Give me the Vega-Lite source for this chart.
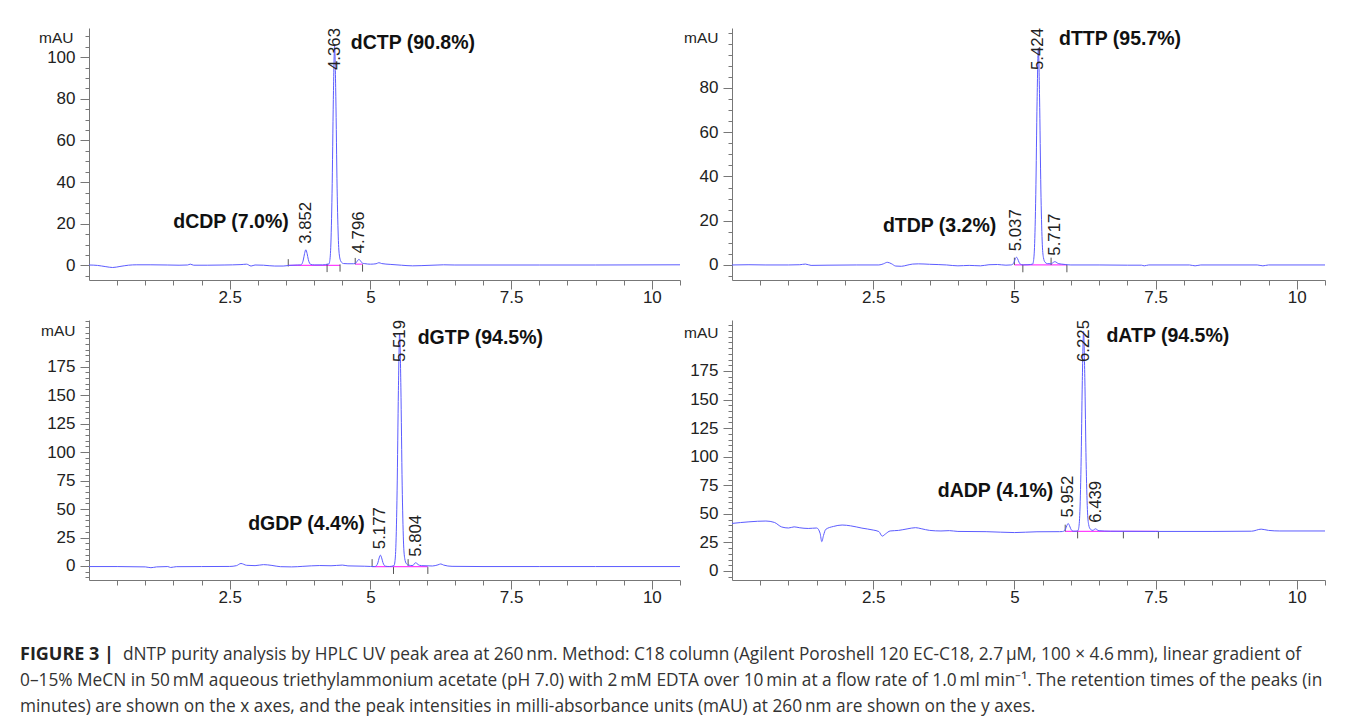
{
"$schema": "https://vega.github.io/schema/vega-lite/v6.json",
"autosize": {"type": "pad"},
"padding": {"left": 20, "top": 23, "right": 5, "bottom": 0},
"background": "white",
"config": {"view": {"stroke": null}, "font": "Liberation Sans",
  "axis": {"grid": false, "domainColor": "#777", "tickColor": "#777", "domainWidth": 1, "tickWidth": 1, "labelColor": "#222", "labelFont": "Liberation Sans", "labelFontSize": 17, "labelOverlap": false, "labelFlush": false, "labelBound": false}},
"datasets": {
"p1_trace": [{"x":0,"y":0.2},{"x":0.15,"y":0.0},{"x":0.3,"y":-0.6},{"x":0.42,"y":-1.0},{"x":0.55,"y":-0.5},{"x":0.7,"y":0.1},{"x":0.85,"y":0.3},{"x":1.1,"y":0.3},{"x":1.4,"y":0.2},{"x":1.6,"y":0.1},{"x":1.75,"y":0.2},{"x":1.8,"y":0.6},{"x":1.86,"y":0.1},{"x":2.1,"y":0.1},{"x":2.4,"y":0.2},{"x":2.7,"y":0.4},{"x":2.8,"y":0.6},{"x":2.88,"y":-0.3},{"x":2.95,"y":0.2},{"x":3.1,"y":0.1},{"x":3.3,"y":-0.3},{"x":3.45,"y":-0.3},{"x":3.55,"y":0.0},{"x":3.7,"y":0.2},{"x":3.752,"y":0.23},{"x":3.762,"y":0.28},{"x":3.784,"y":0.78},{"x":3.807,"y":2.57},{"x":3.83,"y":5.71},{"x":3.852,"y":7.5},{"x":3.874,"y":5.82},{"x":3.897,"y":2.76},{"x":3.92,"y":1.0},{"x":3.942,"y":0.46},{"x":3.972,"y":0.29},{"x":4.012,"y":0.24},{"x":4.15,"y":0.25},{"x":4.263,"y":0.72},{"x":4.273,"y":1.46},{"x":4.295,"y":8.7},{"x":4.318,"y":34.4},{"x":4.341,"y":79.6},{"x":4.363,"y":105.3},{"x":4.385,"y":81.2},{"x":4.408,"y":37.1},{"x":4.431,"y":11.9},{"x":4.453,"y":4.0},{"x":4.483,"y":1.6},{"x":4.523,"y":0.9},{"x":4.6,"y":0.8},{"x":4.7,"y":0.8},{"x":4.728,"y":0.97},{"x":4.751,"y":1.48},{"x":4.774,"y":2.4},{"x":4.796,"y":2.9},{"x":4.818,"y":2.4},{"x":4.841,"y":1.5},{"x":4.864,"y":1.03},{"x":4.9,"y":0.85},{"x":5.0,"y":0.6},{"x":5.1,"y":0.8},{"x":5.15,"y":1.3},{"x":5.2,"y":0.9},{"x":5.35,"y":0.5},{"x":5.55,"y":0.1},{"x":5.75,"y":-0.2},{"x":5.9,"y":-0.1},{"x":6.2,"y":0.2},{"x":6.3,"y":0.3},{"x":6.5,"y":0.2},{"x":7.0,"y":0.2},{"x":8.0,"y":0.2},{"x":9.0,"y":0.2},{"x":10.5,"y":0.3}],
"p1_base": [{"x":3.54,"x2":4.46,"y":0},{"x":4.73,"x2":4.86,"y":0.6}],
"p1_ticks": [{"x":3.54,"y":-0.5,"y2":3.0},{"x":4.23,"y":0.8,"y2":-3.2},{"x":4.46,"y":0.5,"y2":-3.0},{"x":4.73,"y":0.5,"y2":3.6},{"x":4.86,"y":0.5,"y2":-3.0}],
"p1_rt": [{"x":3.852,"y":7.5,"label":"3.852"},{"x":4.796,"y":2.9,"label":"4.796"}],
"p1_rttop": [{"x":4.363,"y":114,"label":"4.363"}],
"p1_nameL": [{"x":4.65,"y":107,"label":"dCTP (90.8%)"}],
"p1_nameR": [{"x":3.55,"y":20.7,"label":"dCDP (7.0%)"}],
"p2_trace": [{"x":0,"y":0.0},{"x":0.3,"y":0.1},{"x":0.6,"y":0.0},{"x":1.0,"y":0.0},{"x":1.2,"y":0.1},{"x":1.3,"y":0.4},{"x":1.4,"y":-0.2},{"x":1.7,"y":-0.1},{"x":2.2,"y":0.0},{"x":2.6,"y":0.0},{"x":2.68,"y":0.5},{"x":2.75,"y":1.2},{"x":2.82,"y":0.6},{"x":2.9,"y":-0.5},{"x":3.0,"y":-0.6},{"x":3.1,"y":-0.1},{"x":3.2,"y":0.4},{"x":3.3,"y":0.5},{"x":3.5,"y":0.3},{"x":3.8,"y":0.0},{"x":4.0,"y":-0.4},{"x":4.2,"y":-0.2},{"x":4.4,"y":-0.4},{"x":4.55,"y":0.1},{"x":4.7,"y":0.2},{"x":4.85,"y":-0.1},{"x":4.937,"y":0.01},{"x":4.947,"y":0.04},{"x":4.969,"y":0.28},{"x":4.992,"y":1.14},{"x":5.015,"y":2.64},{"x":5.037,"y":3.5},{"x":5.059,"y":2.7},{"x":5.082,"y":1.23},{"x":5.105,"y":0.39},{"x":5.127,"y":0.12},{"x":5.157,"y":0.04},{"x":5.24,"y":0.1},{"x":5.324,"y":0.4},{"x":5.334,"y":1.1},{"x":5.356,"y":7.8},{"x":5.379,"y":31.9},{"x":5.402,"y":74},{"x":5.424,"y":98},{"x":5.446,"y":75.5},{"x":5.469,"y":34.3},{"x":5.492,"y":10.8},{"x":5.514,"y":3.4},{"x":5.544,"y":1.2},{"x":5.584,"y":0.6},{"x":5.65,"y":0.55},{"x":5.672,"y":0.83},{"x":5.695,"y":1.25},{"x":5.717,"y":1.5},{"x":5.739,"y":1.27},{"x":5.762,"y":0.85},{"x":5.785,"y":0.61},{"x":5.83,"y":0.4},{"x":5.9,"y":0.2},{"x":6.0,"y":0.0},{"x":6.5,"y":0.0},{"x":7.0,"y":-0.1},{"x":7.25,"y":-0.1},{"x":7.3,"y":-0.4},{"x":7.38,"y":0.0},{"x":8.1,"y":0.0},{"x":8.2,"y":-0.4},{"x":8.3,"y":0.0},{"x":9.3,"y":0.0},{"x":9.4,"y":-0.4},{"x":9.5,"y":0.0},{"x":10.5,"y":0.0}],
"p2_base": [{"x":5.0,"x2":5.93,"y":0}],
"p2_ticks": [{"x":5.0,"y":0,"y2":3.3},{"x":5.15,"y":0,"y2":-3.3},{"x":5.65,"y":0,"y2":3.3},{"x":5.93,"y":0,"y2":-3.3}],
"p2_rt": [{"x":5.037,"y":3.5,"label":"5.037"},{"x":5.717,"y":1.5,"label":"5.717"}],
"p2_rttop": [{"x":5.424,"y":107.1,"label":"5.424"}],
"p2_nameL": [{"x":5.79,"y":102,"label":"dTTP (95.7%)"}],
"p2_nameR": [{"x":4.68,"y":17.8,"label":"dTDP (3.2%)"}],
"p3_trace": [{"x":0,"y":-0.5},{"x":0.5,"y":-0.5},{"x":1.0,"y":-0.8},{"x":1.1,"y":-1.5},{"x":1.2,"y":-0.8},{"x":1.4,"y":-0.5},{"x":1.45,"y":-1.3},{"x":1.55,"y":-0.6},{"x":2.0,"y":-0.5},{"x":2.5,"y":-0.4},{"x":2.62,"y":0.3},{"x":2.7,"y":2.2},{"x":2.8,"y":0.6},{"x":2.95,"y":0.3},{"x":3.1,"y":1.2},{"x":3.25,"y":0.5},{"x":3.4,"y":-0.6},{"x":3.6,"y":-0.8},{"x":3.8,"y":-0.3},{"x":4.1,"y":0.4},{"x":4.3,"y":0.2},{"x":4.5,"y":0.8},{"x":4.6,"y":0.1},{"x":4.9,"y":-0.2},{"x":5.0,"y":-0.4},{"x":5.077,"y":-0.46},{"x":5.087,"y":-0.39},{"x":5.109,"y":0.3},{"x":5.132,"y":2.75},{"x":5.155,"y":7.05},{"x":5.177,"y":9.5},{"x":5.199,"y":7.2},{"x":5.222,"y":3.0},{"x":5.245,"y":0.6},{"x":5.267,"y":-0.15},{"x":5.297,"y":-0.38},{"x":5.337,"y":-0.45},{"x":5.419,"y":0.3},{"x":5.429,"y":1.8},{"x":5.451,"y":16},{"x":5.474,"y":66},{"x":5.497,"y":154},{"x":5.519,"y":204.5},{"x":5.541,"y":157},{"x":5.564,"y":71},{"x":5.587,"y":22},{"x":5.609,"y":6.7},{"x":5.639,"y":2.0},{"x":5.679,"y":0.8},{"x":5.74,"y":0.4},{"x":5.76,"y":0.6},{"x":5.782,"y":2.2},{"x":5.804,"y":2.8},{"x":5.826,"y":2.2},{"x":5.849,"y":1.2},{"x":5.872,"y":0.6},{"x":5.91,"y":0.3},{"x":6.1,"y":0.0},{"x":6.2,"y":1.0},{"x":6.25,"y":1.8},{"x":6.3,"y":0.8},{"x":6.45,"y":-0.3},{"x":7.0,"y":-0.5},{"x":8.0,"y":-0.5},{"x":9.0,"y":-0.5},{"x":10.5,"y":-0.5}],
"p3_base": [{"x":5.03,"x2":6.02,"y":-0.5}],
"p3_ticks": [{"x":5.03,"y":0,"y2":6},{"x":5.41,"y":-1,"y2":-7},{"x":5.67,"y":0,"y2":6},{"x":6.02,"y":-1,"y2":-7}],
"p3_rt": [{"x":5.177,"y":9.5,"label":"5.177"},{"x":5.804,"y":2.8,"label":"5.804"}],
"p3_rttop": [{"x":5.519,"y":216,"label":"5.519"}],
"p3_nameL": [{"x":5.84,"y":200.5,"label":"dGTP (94.5%)"}],
"p3_nameR": [{"x":4.9,"y":36.6,"label":"dGDP (4.4%)"}],
"p4_trace": [{"x":0,"y":41.6},{"x":0.3,"y":43.0},{"x":0.6,"y":43.7},{"x":0.75,"y":42.5},{"x":0.88,"y":38.5},{"x":1.0,"y":37.6},{"x":1.1,"y":38.6},{"x":1.2,"y":37.8},{"x":1.35,"y":37.2},{"x":1.5,"y":37.6},{"x":1.56,"y":33},{"x":1.59,"y":25.7},{"x":1.62,"y":31},{"x":1.66,"y":36.4},{"x":1.8,"y":39.0},{"x":1.95,"y":40.2},{"x":2.1,"y":39.5},{"x":2.3,"y":37.5},{"x":2.5,"y":35.8},{"x":2.6,"y":34.5},{"x":2.66,"y":30.5},{"x":2.72,"y":32.5},{"x":2.8,"y":35.0},{"x":2.95,"y":35.5},{"x":3.1,"y":36.8},{"x":3.25,"y":37.9},{"x":3.35,"y":37.0},{"x":3.5,"y":35.5},{"x":3.7,"y":35.0},{"x":3.85,"y":35.3},{"x":4.0,"y":34.6},{"x":4.5,"y":34.4},{"x":5.0,"y":33.6},{"x":5.4,"y":34.3},{"x":5.8,"y":34.4},{"x":5.852,"y":34.5},{"x":5.862,"y":34.6},{"x":5.884,"y":35.1},{"x":5.907,"y":36.8},{"x":5.93,"y":39.8},{"x":5.952,"y":41.5},{"x":5.974,"y":39.9},{"x":5.997,"y":37.0},{"x":6.02,"y":35.3},{"x":6.042,"y":34.8},{"x":6.09,"y":34.8},{"x":6.125,"y":35.2},{"x":6.135,"y":36.4},{"x":6.157,"y":48.5},{"x":6.18,"y":91.4},{"x":6.203,"y":166.6},{"x":6.225,"y":209.5},{"x":6.247,"y":169.2},{"x":6.27,"y":95.8},{"x":6.293,"y":53.8},{"x":6.315,"y":40.6},{"x":6.345,"y":36.6},{"x":6.39,"y":35.5},{"x":6.415,"y":36.3},{"x":6.439,"y":36.9},{"x":6.465,"y":36.0},{"x":6.5,"y":35.2},{"x":6.7,"y":34.8},{"x":7.5,"y":34.6},{"x":8.5,"y":34.6},{"x":9.2,"y":34.8},{"x":9.37,"y":36.6},{"x":9.5,"y":35.5},{"x":9.7,"y":35.0},{"x":10.5,"y":35.0}],
"p4_base": [{"x":5.9,"x2":7.55,"y":34.6}],
"p4_ticks": [{"x":5.9,"y":34.5,"y2":40.5},{"x":6.12,"y":34.5,"y2":28.5},{"x":6.93,"y":34.5,"y2":28.5},{"x":7.55,"y":34.5,"y2":28.5}],
"p4_rt": [{"x":5.952,"y":41.5,"label":"5.952"},{"x":6.439,"y":36.9,"label":"6.439"}],
"p4_rttop": [{"x":6.225,"y":219.6,"label":"6.225"}],
"p4_nameL": [{"x":6.63,"y":205.6,"label":"dATP (94.5%)"}],
"p4_nameR": [{"x":5.69,"y":70,"label":"dADP (4.1%)"}],
"caption": [
 {"line":1,"part":"bold","text":"FIGURE 3 |"},
 {"line":1,"part":"first","text":"dNTP purity analysis by HPLC UV peak area at 260\u2009nm. Method: C18 column (Agilent Poroshell 120 EC-C18, 2.7\u2009µM, 100 × 4.6\u2009mm), linear gradient of"},
 {"line":2,"part":"rest","text":"0–15% MeCN in 50\u2009mM aqueous triethylammonium acetate (pH 7.0) with 2\u2009mM EDTA over 10\u2009min at a flow rate of 1.0\u2009ml min⁻¹. The retention times of the peaks (in"},
 {"line":3,"part":"rest","text":"minutes) are shown on the x axes, and the peak intensities in milli-absorbance units (mAU) at 260\u2009nm are shown on the y axes."}
]
},
"vconcat": [
 {"vconcat": [
  {"hconcat": [
   {"width": 591, "height": 252,
    "encoding": {
     "x": {"field": "x", "type": "quantitative", "scale": {"domain": [0, 10.5], "nice": false, "zero": false},
       "axis": {"title": null, "values": [0.5,1,1.5,2,2.5,3,3.5,4,4.5,5,5.5,6,6.5,7,7.5,8,8.5,9,9.5,10,10.5], "format": "~g", "labelExpr": "datum.value % 2.5 === 0 ? datum.label : ''", "tickSize": {"condition": {"test": "datum.value % 2.5 === 0", "value": 9}, "value": 5}, "labelPadding": 0}},
     "y": {"field": "y", "type": "quantitative", "scale": {"domain": [-7, 114], "nice": false, "zero": false},
       "axis": {"title": "mAU", "titleAngle": 0, "titleAlign": "right", "titleBaseline": "middle", "titleX": -16, "titleY": 9, "titleFontSize": 15.5, "titleFontWeight": "normal", "titleColor": "#222", "titleFont": "Liberation Sans",
        "values": [-5,0,5,10,15,20,25,30,35,40,45,50,55,60,65,70,75,80,85,90,95,100,105,110], "format": "~g", "labelExpr": "datum.value % 20 === 0 && datum.value >= 0 ? datum.label : ''", "tickSize": {"condition": {"test": "datum.value % 20 === 0 && datum.value >= 0", "value": 9}, "value": 4}, "labelPadding": 5}}
    },
    "layer": [
     {"data": {"name": "p1_base"}, "mark": {"type": "rule", "color": "#ff40ff", "strokeWidth": 1.2}, "encoding": {"x2": {"field": "x2"}}},
     {"data": {"name": "p1_ticks"}, "mark": {"type": "rule", "color": "#555"}, "encoding": {"y2": {"field": "y2"}}},
     {"data": {"name": "p1_trace"}, "mark": {"type": "line", "color": "#5c5cff", "strokeWidth": 1, "interpolate": "monotone"}, "encoding": {}},
     {"data": {"name": "p1_rt"}, "mark": {"type": "text", "angle": 270, "align": "left", "baseline": "middle", "dx": 6, "fontSize": 16.8, "color": "#222"}, "encoding": {"text": {"field": "label"}}},
     {"data": {"name": "p1_rttop"}, "mark": {"type": "text", "angle": 270, "align": "right", "baseline": "middle", "fontSize": 16.8, "color": "#222"}, "encoding": {"text": {"field": "label"}}},
     {"data": {"name": "p1_nameL"}, "mark": {"type": "text", "align": "left", "baseline": "middle", "fontSize": 19.5, "fontWeight": "bold", "color": "#111"}, "encoding": {"text": {"field": "label"}}},
     {"data": {"name": "p1_nameR"}, "mark": {"type": "text", "align": "right", "baseline": "middle", "fontSize": 19.5, "fontWeight": "bold", "color": "#111"}, "encoding": {"text": {"field": "label"}}}
    ]
   },
   {"width": 593, "height": 252,
    "encoding": {
     "x": {"field": "x", "type": "quantitative", "scale": {"domain": [0, 10.5], "nice": false, "zero": false},
       "axis": {"title": null, "values": [0.5,1,1.5,2,2.5,3,3.5,4,4.5,5,5.5,6,6.5,7,7.5,8,8.5,9,9.5,10,10.5], "format": "~g", "labelExpr": "datum.value % 2.5 === 0 ? datum.label : ''", "tickSize": {"condition": {"test": "datum.value % 2.5 === 0", "value": 9}, "value": 5}, "labelPadding": 0}},
     "y": {"field": "y", "type": "quantitative", "scale": {"domain": [-6.8, 107.1], "nice": false, "zero": false},
       "axis": {"title": "mAU", "titleAngle": 0, "titleAlign": "right", "titleBaseline": "middle", "titleX": -14, "titleY": 9, "titleFontSize": 15.5, "titleFontWeight": "normal", "titleColor": "#222", "titleFont": "Liberation Sans",
        "values": [-5,0,5,10,15,20,25,30,35,40,45,50,55,60,65,70,75,80,85,90,95,100,105], "format": "~g", "labelExpr": "datum.value % 20 === 0 && datum.value >= 0 && datum.value <= 80 ? datum.label : ''", "tickSize": {"condition": {"test": "datum.value % 20 === 0 && datum.value >= 0 && datum.value <= 80", "value": 9}, "value": 4}, "labelPadding": 5}}
    },
    "layer": [
     {"data": {"name": "p2_base"}, "mark": {"type": "rule", "color": "#ff40ff", "strokeWidth": 1.2}, "encoding": {"x2": {"field": "x2"}}},
     {"data": {"name": "p2_ticks"}, "mark": {"type": "rule", "color": "#555"}, "encoding": {"y2": {"field": "y2"}}},
     {"data": {"name": "p2_trace"}, "mark": {"type": "line", "color": "#5c5cff", "strokeWidth": 1, "interpolate": "monotone"}, "encoding": {}},
     {"data": {"name": "p2_rt"}, "mark": {"type": "text", "angle": 270, "align": "left", "baseline": "middle", "dx": 6, "fontSize": 16.8, "color": "#222"}, "encoding": {"text": {"field": "label"}}},
     {"data": {"name": "p2_rttop"}, "mark": {"type": "text", "angle": 270, "align": "right", "baseline": "middle", "fontSize": 16.8, "color": "#222"}, "encoding": {"text": {"field": "label"}}},
     {"data": {"name": "p2_nameL"}, "mark": {"type": "text", "align": "left", "baseline": "middle", "fontSize": 19.5, "fontWeight": "bold", "color": "#111"}, "encoding": {"text": {"field": "label"}}},
     {"data": {"name": "p2_nameR"}, "mark": {"type": "text", "align": "right", "baseline": "middle", "fontSize": 19.5, "fontWeight": "bold", "color": "#111"}, "encoding": {"text": {"field": "label"}}}
    ]
   }
  ], "spacing": 52, "bounds": "flush"},
  {"hconcat": [
   {"width": 591, "height": 260,
    "encoding": {
     "x": {"field": "x", "type": "quantitative", "scale": {"domain": [0, 10.5], "nice": false, "zero": false},
       "axis": {"title": null, "values": [0.5,1,1.5,2,2.5,3,3.5,4,4.5,5,5.5,6,6.5,7,7.5,8,8.5,9,9.5,10,10.5], "format": "~g", "labelExpr": "datum.value % 2.5 === 0 ? datum.label : ''", "tickSize": {"condition": {"test": "datum.value % 2.5 === 0", "value": 9}, "value": 5}, "labelPadding": 0}},
     "y": {"field": "y", "type": "quantitative", "scale": {"domain": [-12.3, 216], "nice": false, "zero": false},
       "axis": {"title": "mAU", "titleAngle": 0, "titleAlign": "right", "titleBaseline": "middle", "titleX": -14, "titleY": 10, "titleFontSize": 15.5, "titleFontWeight": "normal", "titleColor": "#222", "titleFont": "Liberation Sans",
        "values": [-10,-5,0,5,10,15,20,25,30,35,40,45,50,55,60,65,70,75,80,85,90,95,100,105,110,115,120,125,130,135,140,145,150,155,160,165,170,175,180,185,190,195,200,205,210,215], "format": "~g", "labelExpr": "datum.value % 25 === 0 && datum.value >= 0 && datum.value <= 175 ? datum.label : ''", "tickSize": {"condition": {"test": "datum.value % 25 === 0 && datum.value >= 0 && datum.value <= 175", "value": 9}, "value": 4}, "labelPadding": 5}}
    },
    "layer": [
     {"data": {"name": "p3_base"}, "mark": {"type": "rule", "color": "#ff40ff", "strokeWidth": 1.2}, "encoding": {"x2": {"field": "x2"}}},
     {"data": {"name": "p3_ticks"}, "mark": {"type": "rule", "color": "#555"}, "encoding": {"y2": {"field": "y2"}}},
     {"data": {"name": "p3_trace"}, "mark": {"type": "line", "color": "#5c5cff", "strokeWidth": 1, "interpolate": "monotone"}, "encoding": {}},
     {"data": {"name": "p3_rt"}, "mark": {"type": "text", "angle": 270, "align": "left", "baseline": "middle", "dx": 6, "fontSize": 16.8, "color": "#222"}, "encoding": {"text": {"field": "label"}}},
     {"data": {"name": "p3_rttop"}, "mark": {"type": "text", "angle": 270, "align": "right", "baseline": "middle", "fontSize": 16.8, "color": "#222"}, "encoding": {"text": {"field": "label"}}},
     {"data": {"name": "p3_nameL"}, "mark": {"type": "text", "align": "left", "baseline": "middle", "fontSize": 19.5, "fontWeight": "bold", "color": "#111"}, "encoding": {"text": {"field": "label"}}},
     {"data": {"name": "p3_nameR"}, "mark": {"type": "text", "align": "right", "baseline": "middle", "fontSize": 19.5, "fontWeight": "bold", "color": "#111"}, "encoding": {"text": {"field": "label"}}}
    ]
   },
   {"width": 593, "height": 260,
    "encoding": {
     "x": {"field": "x", "type": "quantitative", "scale": {"domain": [0, 10.5], "nice": false, "zero": false},
       "axis": {"title": null, "values": [0.5,1,1.5,2,2.5,3,3.5,4,4.5,5,5.5,6,6.5,7,7.5,8,8.5,9,9.5,10,10.5], "format": "~g", "labelExpr": "datum.value % 2.5 === 0 ? datum.label : ''", "tickSize": {"condition": {"test": "datum.value % 2.5 === 0", "value": 9}, "value": 5}, "labelPadding": 0}},
     "y": {"field": "y", "type": "quantitative", "scale": {"domain": [-7.9, 219.6], "nice": false, "zero": false},
       "axis": {"title": "mAU", "titleAngle": 0, "titleAlign": "right", "titleBaseline": "middle", "titleX": -14, "titleY": 12, "titleFontSize": 15.5, "titleFontWeight": "normal", "titleColor": "#222", "titleFont": "Liberation Sans",
        "values": [-5,0,5,10,15,20,25,30,35,40,45,50,55,60,65,70,75,80,85,90,95,100,105,110,115,120,125,130,135,140,145,150,155,160,165,170,175,180,185,190,195,200,205,210,215], "format": "~g", "labelExpr": "datum.value % 25 === 0 && datum.value >= 0 && datum.value <= 175 ? datum.label : ''", "tickSize": {"condition": {"test": "datum.value % 25 === 0 && datum.value >= 0 && datum.value <= 175", "value": 9}, "value": 4}, "labelPadding": 5}}
    },
    "layer": [
     {"data": {"name": "p4_base"}, "mark": {"type": "rule", "color": "#ff40ff", "strokeWidth": 1.2}, "encoding": {"x2": {"field": "x2"}}},
     {"data": {"name": "p4_ticks"}, "mark": {"type": "rule", "color": "#555"}, "encoding": {"y2": {"field": "y2"}}},
     {"data": {"name": "p4_trace"}, "mark": {"type": "line", "color": "#5c5cff", "strokeWidth": 1, "interpolate": "monotone"}, "encoding": {}},
     {"data": {"name": "p4_rt"}, "mark": {"type": "text", "angle": 270, "align": "left", "baseline": "middle", "dx": 6, "fontSize": 16.8, "color": "#222"}, "encoding": {"text": {"field": "label"}}},
     {"data": {"name": "p4_rttop"}, "mark": {"type": "text", "angle": 270, "align": "right", "baseline": "middle", "fontSize": 16.8, "color": "#222"}, "encoding": {"text": {"field": "label"}}},
     {"data": {"name": "p4_nameL"}, "mark": {"type": "text", "align": "left", "baseline": "middle", "fontSize": 19.5, "fontWeight": "bold", "color": "#111"}, "encoding": {"text": {"field": "label"}}},
     {"data": {"name": "p4_nameR"}, "mark": {"type": "text", "align": "right", "baseline": "middle", "fontSize": 19.5, "fontWeight": "bold", "color": "#111"}, "encoding": {"text": {"field": "label"}}}
    ]
   }
  ], "spacing": 52, "bounds": "flush"}
 ], "spacing": 7},
 {"width": 1236, "height": 78,
  "data": {"name": "caption"},
  "encoding": {"y": {"field": "line", "type": "ordinal", "axis": null, "scale": {"type": "point", "padding": 0.5}}, "text": {"field": "text"}},
  "layer": [
   {"transform": [{"filter": "datum.part === 'bold'"}], "mark": {"type": "text", "x": -69, "align": "left", "baseline": "middle", "font": "Open Sans", "fontSize": 18, "fontWeight": "bold", "color": "#222"}},
   {"transform": [{"filter": "datum.part === 'first'"}], "mark": {"type": "text", "x": 34, "align": "left", "baseline": "middle", "font": "Open Sans", "fontSize": 17.3, "color": "#333"}},
   {"transform": [{"filter": "datum.part === 'rest'"}], "mark": {"type": "text", "x": -69, "align": "left", "baseline": "middle", "font": "Open Sans", "fontSize": 17.3, "color": "#333"}}
  ]
 }
],
"spacing": 37
}
